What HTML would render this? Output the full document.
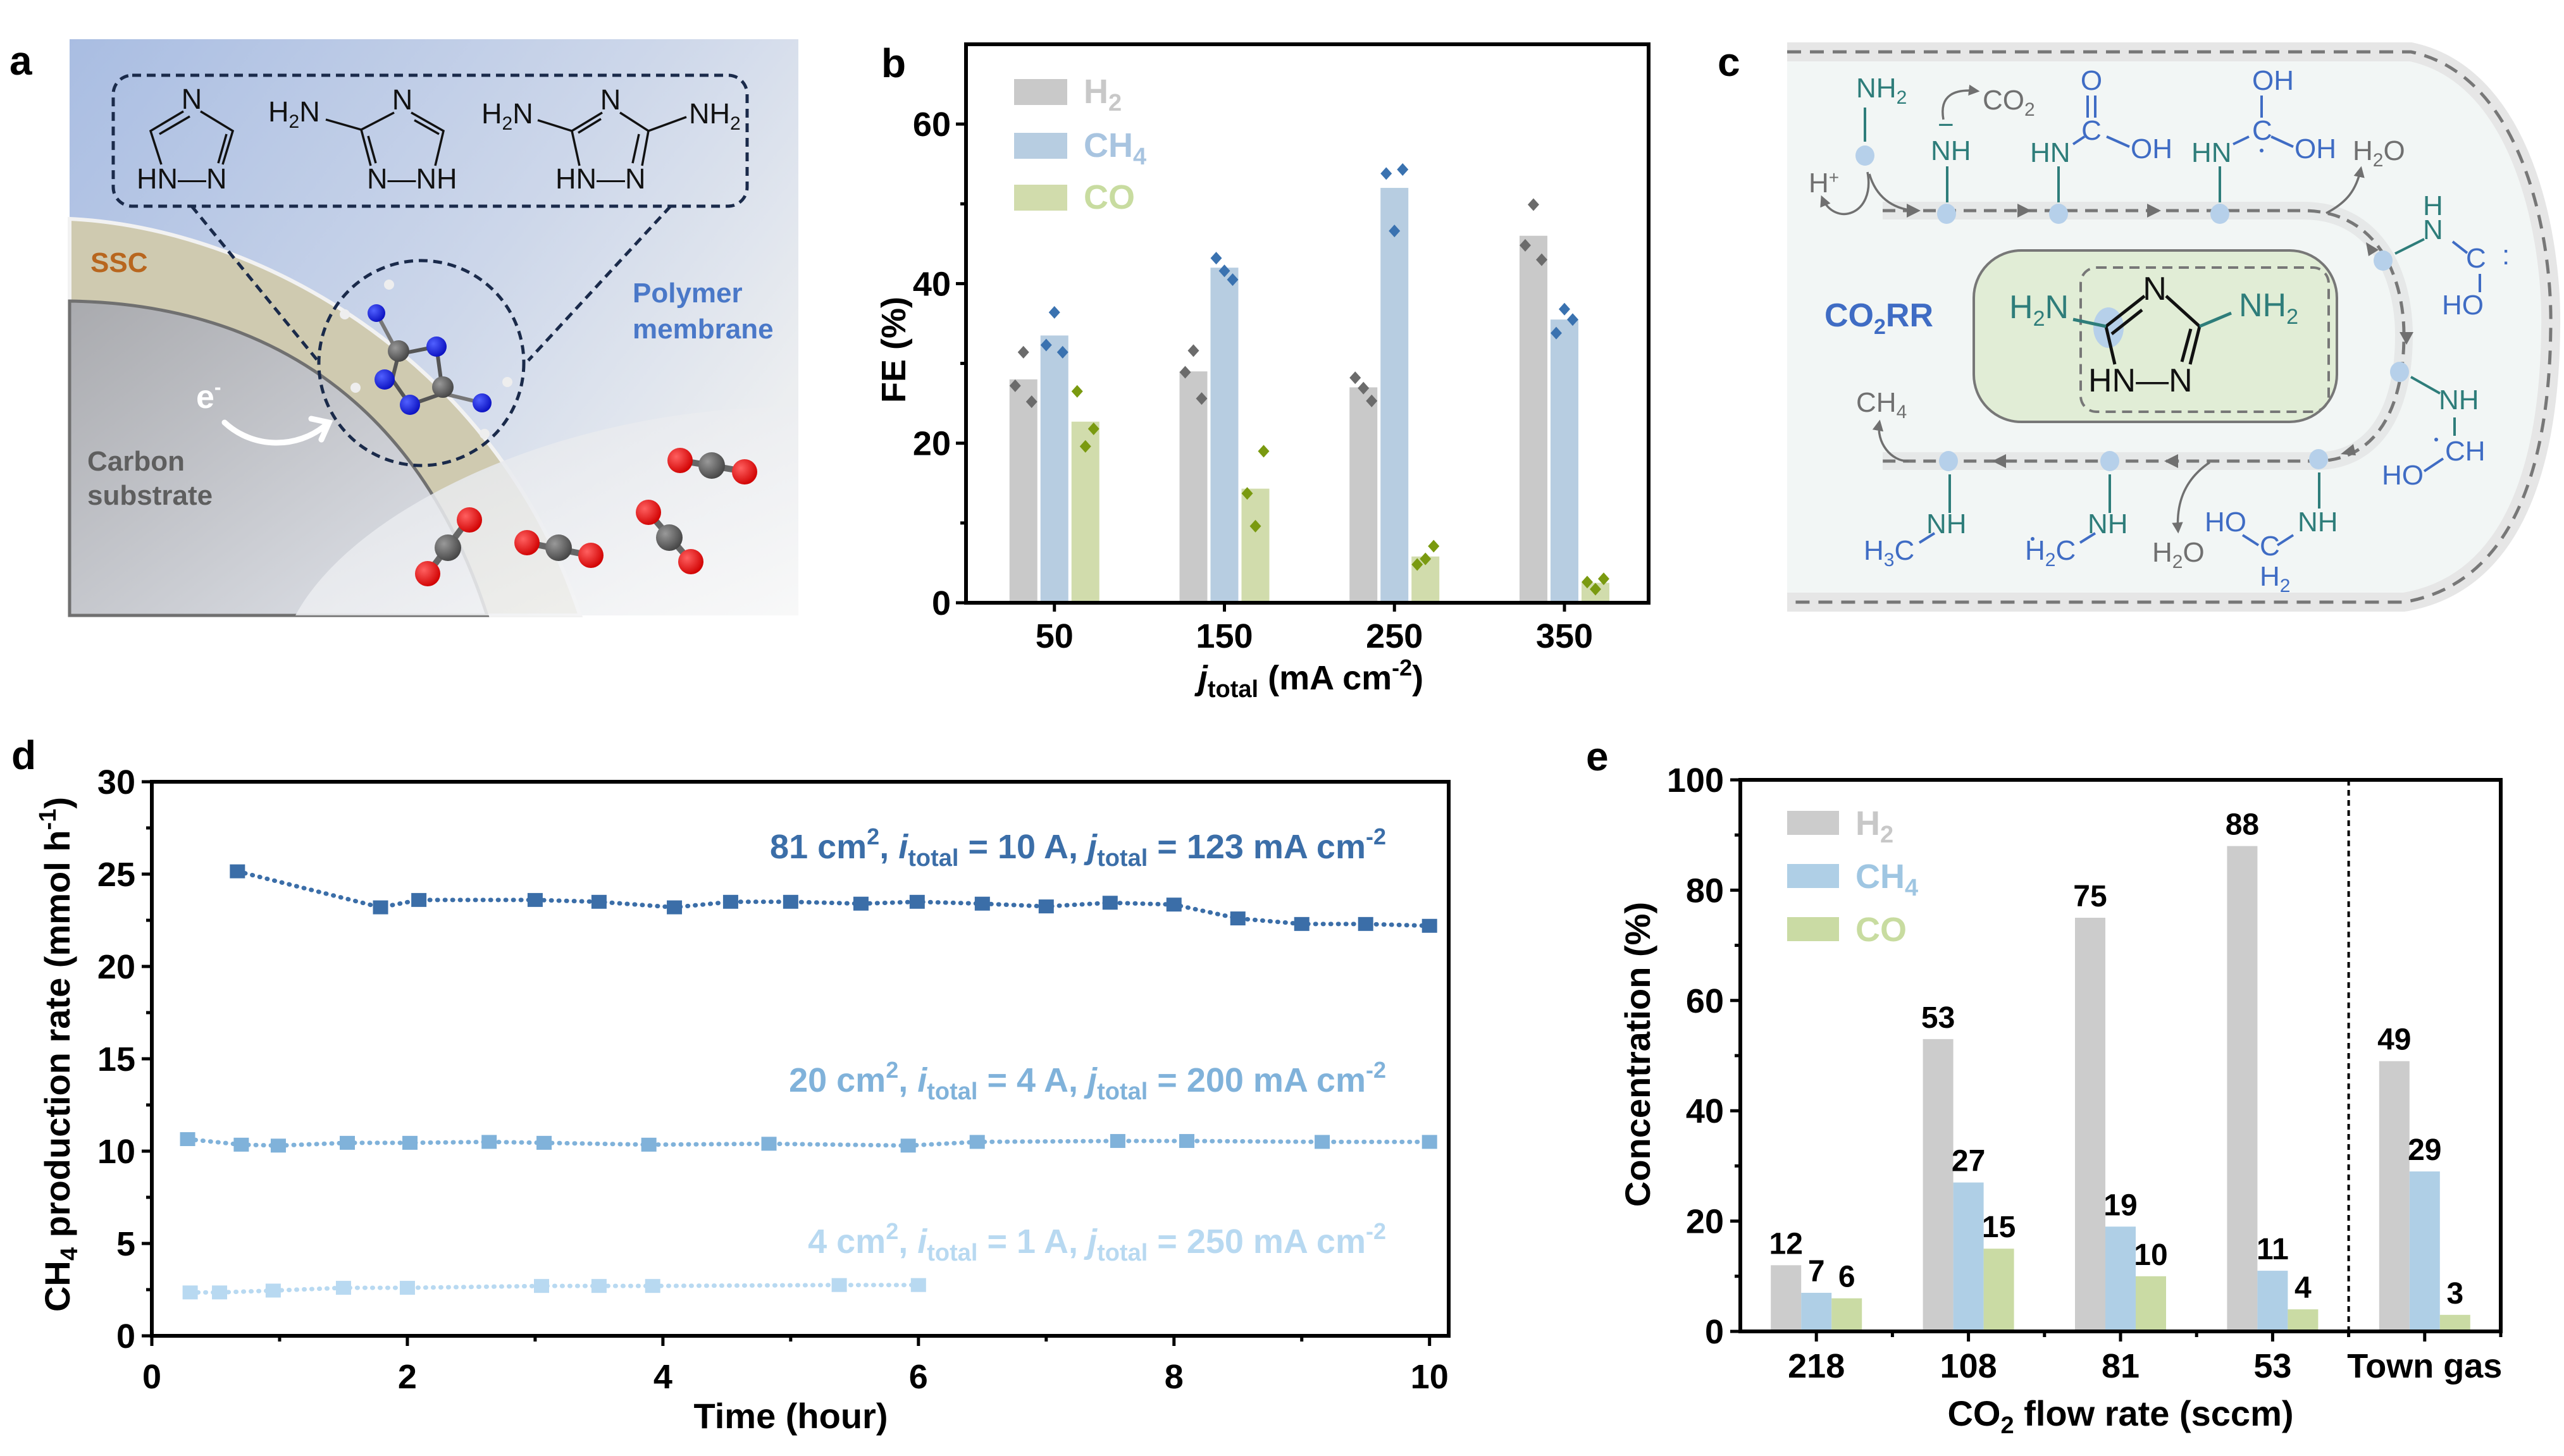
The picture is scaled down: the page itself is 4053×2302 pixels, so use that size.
<!DOCTYPE html>
<html><head><meta charset="utf-8"><style>
html,body{margin:0;padding:0;background:#fff}
svg{display:block;font-family:"Liberation Sans",Arial,sans-serif}
</style></head><body>
<svg id="fig" width="4053" height="2302" viewBox="0 0 4053 2302" xmlns="http://www.w3.org/2000/svg">
<defs>
<linearGradient id="bgA" x1="0" y1="0" x2="1" y2="0.6"><stop offset="0" stop-color="#a9bde2"/><stop offset="0.6" stop-color="#cdd7ea"/><stop offset="1" stop-color="#eceef0"/></linearGradient>
<linearGradient id="carb" x1="0" y1="0" x2="1" y2="1"><stop offset="0" stop-color="#a9aaae"/><stop offset="1" stop-color="#e2e5ec"/></linearGradient>
<linearGradient id="wht" x1="0" y1="0" x2="1" y2="1"><stop offset="0" stop-color="#dfe2e8"/><stop offset="1" stop-color="#fafafa"/></linearGradient>
<radialGradient id="red" cx="0.35" cy="0.35" r="0.7"><stop offset="0" stop-color="#ff6060"/><stop offset="1" stop-color="#d00000"/></radialGradient>
<radialGradient id="gry" cx="0.35" cy="0.35" r="0.7"><stop offset="0" stop-color="#999"/><stop offset="1" stop-color="#444"/></radialGradient>
<radialGradient id="blu" cx="0.35" cy="0.35" r="0.7"><stop offset="0" stop-color="#5060ff"/><stop offset="1" stop-color="#0a10c0"/></radialGradient>
<marker id="ah" viewBox="0 0 10 10" refX="8" refY="5" markerWidth="5" markerHeight="5" orient="auto"><path d="M0,0 L10,5 L0,10 Z" fill="#707070"/></marker>
</defs>

<!-- ================= PANEL A ================= -->
<g>
<text x="15" y="118" font-size="64" font-weight="bold">a</text>
<rect x="110" y="62" width="1152" height="911" fill="url(#bgA)"/>
<path d="M110,346 C400,360 780,560 917,973 L110,973 Z" fill="#cfcab0" stroke="#f2f2f2" stroke-width="6"/>
<path d="M110,476 C380,480 650,600 770,973 L110,973 Z" fill="url(#carb)" stroke="#707070" stroke-width="5"/>
<path d="M467,973 C560,800 900,640 1262,644 L1262,973 Z" fill="url(#wht)" opacity="0.85"/>
<rect x="179" y="119" width="1002" height="207" rx="30" fill="none" stroke="#1a2a4a" stroke-width="5" stroke-dasharray="14,9"/>
<line x1="303" y1="326" x2="502" y2="570" stroke="#1a2a4a" stroke-width="5" stroke-dasharray="14,9"/>
<line x1="1060" y1="326" x2="835" y2="570" stroke="#1a2a4a" stroke-width="5" stroke-dasharray="14,9"/>
<circle cx="666" cy="574" r="162" fill="none" stroke="#1a2a4a" stroke-width="5" stroke-dasharray="14,9"/>
<g font-size="45" fill="#111">
 <text x="303" y="172" text-anchor="middle">N</text>
 <text x="216" y="298">HN—N</text>
 <path d="M290,176 L238,207 L255,260 M300,184 L252,212 M317,176 L368,207 L352,260 M358,212 L345,258" stroke="#111" stroke-width="3.5" fill="none"/>
 <text x="636" y="173" text-anchor="middle">N</text>
 <text x="424" y="192">H<tspan font-size="30" dy="10">2</tspan><tspan dy="-10">N</tspan></text>
 <text x="580" y="298">N—NH</text>
 <path d="M515,189 L571,205 L623,178 M650,178 L701,207 L688,262 M571,205 L586,262 M582,215 L594,258 M655,190 L694,212" stroke="#111" stroke-width="3.5" fill="none"/>
 <text x="965" y="173" text-anchor="middle">N</text>
 <text x="761" y="195">H<tspan font-size="30" dy="10">2</tspan><tspan dy="-10">N</tspan></text>
 <text x="1089" y="195">NH<tspan font-size="30" dy="10">2</tspan></text>
 <text x="878" y="298">HN—N</text>
 <path d="M850,190 L904,207 L952,178 M914,210 L950,188 M980,178 L1025,207 L1015,262 M1010,212 L1000,258 M1025,207 L1085,185 M904,207 L916,262" stroke="#111" stroke-width="3.5" fill="none"/>
</g>
<g>
 <path d="M630,560 L690,548 L700,622 L648,640 L620,600 Z" fill="none" stroke="#555" stroke-width="6"/>
 <line x1="630" y1="560" x2="595" y2="495" stroke="#777" stroke-width="6"/>
 <line x1="700" y1="622" x2="762" y2="637" stroke="#777" stroke-width="6"/>
 <circle cx="595" cy="495" r="14" fill="url(#blu)"/><circle cx="615" cy="450" r="8" fill="#eee"/><circle cx="545" cy="497" r="8" fill="#eee"/>
 <circle cx="630" cy="555" r="17" fill="url(#gry)"/><circle cx="690" cy="548" r="16" fill="url(#blu)"/>
 <circle cx="608" cy="600" r="16" fill="url(#blu)"/><circle cx="562" cy="613" r="8" fill="#eee"/>
 <circle cx="700" cy="612" r="17" fill="url(#gry)"/><circle cx="648" cy="640" r="16" fill="url(#blu)"/>
 <circle cx="762" cy="637" r="15" fill="url(#blu)"/><circle cx="802" cy="604" r="8" fill="#eee"/><circle cx="766" cy="686" r="8" fill="#eee"/>
</g>
<text x="143" y="430" font-size="44" font-weight="bold" fill="#b8661e">SSC</text>
<text x="1000" y="478" font-size="44" font-weight="bold" fill="#4a78c8">Polymer</text>
<text x="1000" y="535" font-size="44" font-weight="bold" fill="#4a78c8">membrane</text>
<text x="138" y="744" font-size="44" font-weight="bold" fill="#5e5e5e">Carbon</text>
<text x="138" y="798" font-size="44" font-weight="bold" fill="#5e5e5e">substrate</text>
<text x="310" y="645" font-size="52" font-weight="bold" fill="#fff">e<tspan font-size="32" dy="-22">-</tspan></text>
<path d="M355,668 C400,710 470,710 515,672" fill="none" stroke="#fff" stroke-width="9" stroke-linecap="round"/>
<path d="M492,662 L520,668 L508,695" fill="none" stroke="#fff" stroke-width="9" stroke-linecap="round"/>
<g>
 <line x1="1075" y1="728" x2="1175" y2="745" stroke="#666" stroke-width="10"/><circle cx="1075" cy="728" r="20" fill="url(#red)"/><circle cx="1125" cy="736" r="21" fill="url(#gry)"/><circle cx="1177" cy="746" r="20" fill="url(#red)"/>
 <line x1="833" y1="858" x2="932" y2="878" stroke="#666" stroke-width="10"/><circle cx="833" cy="858" r="20" fill="url(#red)"/><circle cx="883" cy="866" r="21" fill="url(#gry)"/><circle cx="934" cy="878" r="20" fill="url(#red)"/>
 <line x1="1025" y1="810" x2="1092" y2="888" stroke="#666" stroke-width="10"/><circle cx="1025" cy="810" r="20" fill="url(#red)"/><circle cx="1058" cy="850" r="21" fill="url(#gry)"/><circle cx="1092" cy="888" r="20" fill="url(#red)"/>
 <line x1="740" y1="822" x2="676" y2="907" stroke="#666" stroke-width="10"/><circle cx="742" cy="822" r="20" fill="url(#red)"/><circle cx="708" cy="866" r="21" fill="url(#gry)"/><circle cx="676" cy="907" r="20" fill="url(#red)"/>
</g>
</g>

<!-- ================= PANEL C ================= -->
<g>
<text x="2715" y="120" font-size="64" font-weight="bold">c</text>
<path d="M2825,82 L3811,82 C3990,120 4035,380 4032,520 C4030,700 3990,920 3800,952 L2825,952 Z" fill="#f2f6f5"/>
<path d="M2825,82 L3811,82 C3990,120 4035,380 4032,520 C4030,700 3990,920 3800,952 L2825,952" fill="none" stroke="#e6e6e6" stroke-width="30"/>
<path d="M2825,82 L3811,82 C3990,120 4035,380 4032,520 C4030,700 3990,920 3800,952 L2825,952" fill="none" stroke="#777" stroke-width="5" stroke-dasharray="22,14"/>
<path d="M2976,333 L3640,333 C3760,333 3800,440 3800,530 C3800,640 3760,729 3660,729 L2976,729" fill="none" stroke="#e6e8e8" stroke-width="28"/>
<path d="M2976,333 L3640,333 C3760,333 3800,440 3800,530 C3800,640 3760,729 3660,729 L2976,729" fill="none" stroke="#777" stroke-width="5" stroke-dasharray="20,12"/>
<g fill="#707070">
 <path d="M3036,333 l-22,-11 v22 z"/><path d="M3211,333 l-22,-11 v22 z"/><path d="M3416,333 l-22,-11 v22 z"/>
 <path d="M3760,395 l-20,-12 l4,22 z"/><path d="M3804,545 l-11,-20 h22 z"/><path d="M3700,718 l20,-16 l4,18 z"/>
 <path d="M3149,729 l22,-11 v22 z"/><path d="M3421,729 l22,-11 v22 z"/>
</g>
<rect x="3120" y="396" width="574" height="271" rx="75" fill="#e1edd6" stroke="#777" stroke-width="4"/>
<rect x="3289" y="423" width="392" height="228" rx="25" fill="none" stroke="#777" stroke-width="4" stroke-dasharray="16,10"/>
<ellipse cx="3333" cy="518" rx="24" ry="32" fill="#b6d0ea"/>
<g font-size="52">
 <text x="3406" y="474" text-anchor="middle" fill="#111">N</text>
 <text x="3176" y="503" fill="#2e7d7a">H<tspan font-size="34" dy="12">2</tspan><tspan dy="-12">N</tspan></text>
 <text x="3539" y="500" fill="#2e7d7a">NH<tspan font-size="34" dy="12">2</tspan></text>
 <text x="3301" y="619" fill="#111">HN—N</text>
 <path d="M3329,516 L3390,468 M3338,528 L3386,490 M3424,468 L3477,516 L3462,576 M3463,520 L3449,572 M3329,516 L3343,576" stroke="#111" stroke-width="5" fill="none"/>
 <path d="M3277,505 L3329,516 M3477,516 L3527,495" stroke="#2e7d7a" stroke-width="5"/>
</g>
<text x="2884" y="516" font-size="52" font-weight="bold" fill="#3f6cc4">CO<tspan font-size="34" dy="12">2</tspan><tspan dy="-12">RR</tspan></text>
<g font-size="44">
 <g fill="#2e7d7a"><text x="2934" y="154">NH<tspan font-size="30" dy="10">2</tspan></text><text x="3052" y="253">NH</text><text x="3209" y="256">HN</text><text x="3464" y="256">HN</text>
 <text x="3830" y="340">H</text><text x="3830" y="378">N</text><text x="3855" y="647">NH</text><text x="3045" y="843">NH</text><text x="3300" y="843">NH</text><text x="3632" y="840">NH</text></g>
 <g fill="#3f6cc4"><text x="3306" y="142" text-anchor="middle">O</text><text x="3306" y="221" text-anchor="middle">C</text><text x="3368" y="250">OH</text>
 <text x="3560" y="142">OH</text><text x="3560" y="221">C</text><text x="3627" y="250">OH</text>
 <text x="3898" y="423">C</text><text x="3955" y="418">:</text><text x="3860" y="497">HO</text>
 <text x="3865" y="728">CH</text><text x="3765" y="766">HO</text>
 <text x="2946" y="885">H<tspan font-size="30" dy="10">3</tspan><tspan dy="-10">C</tspan></text>
 <text x="3201" y="885">H<tspan font-size="30" dy="10">2</tspan><tspan dy="-10">C</tspan></text>
 <text x="3485" y="840">HO</text><text x="3572" y="878">C</text><text x="3572" y="926">H<tspan font-size="30" dy="10">2</tspan></text></g>
 <g fill="#707070"><text x="2859" y="304">H<tspan font-size="28" dy="-14">+</tspan></text><text x="3134" y="173">CO<tspan font-size="30" dy="10">2</tspan></text>
 <text x="3719" y="253">H<tspan font-size="30" dy="10">2</tspan><tspan dy="-10">O</tspan></text><text x="3402" y="888">H<tspan font-size="30" dy="10">2</tspan><tspan dy="-10">O</tspan></text>
 <text x="2934" y="651">CH<tspan font-size="30" dy="10">4</tspan></text></g>
 <text x="3063" y="212" fill="#2e7d7a">−</text>
 <g fill="#3f6cc4"><circle cx="3575" cy="238" r="3"/><circle cx="3851" cy="695" r="3"/><circle cx="3213" cy="852" r="3"/></g>
 <g stroke="#2e7d7a" stroke-width="4"><line x1="2948" y1="170" x2="2948" y2="224"/><line x1="3078" y1="263" x2="3078" y2="320"/><line x1="3254" y1="263" x2="3254" y2="320"/><line x1="3509" y1="263" x2="3509" y2="320"/>
 <line x1="3786" y1="401" x2="3832" y2="378"/><line x1="3811" y1="596" x2="3857" y2="622"/><line x1="3880" y1="660" x2="3880" y2="689"/>
 <line x1="3082" y1="750" x2="3082" y2="811"/><line x1="3335" y1="750" x2="3335" y2="811"/><line x1="3666" y1="747" x2="3666" y2="804"/></g>
 <g stroke="#3f6cc4" stroke-width="4"><line x1="3300" y1="151" x2="3300" y2="186"/><line x1="3312" y1="151" x2="3312" y2="186"/><line x1="3277" y1="228" x2="3295" y2="216"/><line x1="3330" y1="216" x2="3366" y2="232"/>
 <line x1="3575" y1="151" x2="3575" y2="186"/><line x1="3530" y1="228" x2="3555" y2="216"/><line x1="3590" y1="216" x2="3625" y2="232"/>
 <line x1="3877" y1="382" x2="3900" y2="400"/><line x1="3920" y1="433" x2="3920" y2="462"/><line x1="3862" y1="725" x2="3832" y2="745"/>
 <line x1="3034" y1="858" x2="3058" y2="843"/><line x1="3288" y1="858" x2="3312" y2="843"/><line x1="3545" y1="846" x2="3570" y2="862"/><line x1="3600" y1="862" x2="3625" y2="846"/></g>
 <g fill="#b6d0ea"><ellipse cx="2948" cy="246" rx="15" ry="16"/><ellipse cx="3077" cy="338" rx="15" ry="16"/><ellipse cx="3254" cy="338" rx="15" ry="16"/><ellipse cx="3509" cy="338" rx="15" ry="16"/>
 <ellipse cx="3767" cy="412" rx="15" ry="16"/><ellipse cx="3793" cy="588" rx="15" ry="16"/><ellipse cx="3665" cy="726" rx="15" ry="16"/><ellipse cx="3335" cy="729" rx="15" ry="16"/><ellipse cx="3080" cy="729" rx="15" ry="16"/></g>
 <g fill="none" stroke="#707070" stroke-width="3.5" marker-end="url(#ah)"><path d="M2952,272 C2965,340 2900,360 2880,312"/><path d="M3072,189 C3065,150 3090,140 3126,144"/>
 <path d="M3677,337 C3710,320 3725,300 3732,266"/><path d="M3493,731 C3450,760 3440,800 3443,840"/><path d="M3017,729 C2990,730 2965,700 2971,667"/></g>
 <path d="M2955,275 C2965,310 2990,330 3026,333" fill="none" stroke="#707070" stroke-width="3.5"/>
</g>
</g>

<!-- ================= CHARTS (script-built) ================= -->
<g id="panelB">
<text x="1393" y="122" font-size="64" font-weight="bold">b</text>
</g>
<g id="panelD">
<text x="18" y="1216" font-size="64" font-weight="bold">d</text>
</g>
<g id="panelE">
<text x="2507" y="1218" font-size="64" font-weight="bold">e</text>
</g>
</svg>
<script>
// ---------- Panel b data ----------
const bCategories = ['50','150','250','350'];
const bH2 = [28, 29, 27, 46];
const bCH4 = [33.5, 42, 52, 35.5];
const bCO = [22.7, 14.3, 5.8, 2.5];
const bH2Points = [[27.2,31.4,25.2],[28.9,31.6,25.6],[28.2,26.9,25.3],[44.8,49.9,43.0]];
const bCH4Points = [[32.3,36.4,31.4],[43.2,41.6,40.5],[53.8,46.6,54.3],[33.8,36.8,35.5]];
const bCOPoints = [[26.5,19.6,21.8],[13.7,9.6,19.0],[4.8,5.5,7.1],[2.6,1.7,3.0]];
const bYTicks = [0, 20, 40, 60];
const bYMinor = [10, 30, 50];

// ---------- Panel d data ----------
const dXTicks = [0, 2, 4, 6, 8, 10];
const dXMinor = [1, 3, 5, 7, 9];
const dYTicks = [0, 5, 10, 15, 20, 25, 30];
const dYMinor = [2.5, 7.5, 12.5, 17.5, 22.5, 27.5];
const d81Time = [0.67,1.79,2.09,3.0,3.5,4.09,4.53,5.0,5.55,5.99,6.5,7.0,7.5,8.0,8.5,9.0,9.5,10.0];
const d81Rate = [25.15,23.2,23.6,23.6,23.5,23.2,23.5,23.5,23.4,23.5,23.4,23.25,23.45,23.35,22.6,22.3,22.3,22.2];
const d20Time = [0.28,0.7,0.99,1.53,2.02,2.64,3.07,3.89,4.83,5.92,6.46,7.56,8.1,9.16,10.0];
const d20Rate = [10.65,10.35,10.3,10.45,10.45,10.5,10.45,10.35,10.4,10.3,10.5,10.55,10.55,10.5,10.5];
const d4Time = [0.3,0.53,0.95,1.5,2.0,3.05,3.5,3.92,5.38,6.0];
const d4Rate = [2.35,2.35,2.45,2.6,2.6,2.7,2.7,2.7,2.75,2.75];

// ---------- Panel e data ----------
const eCategories = ['218','108','81','53','Town gas'];
const eH2 = [12, 53, 75, 88, 49];
const eCH4 = [7, 27, 19, 11, 29];
const eCO = [6, 15, 10, 4, 3];
const eYTicks = [0, 20, 40, 60, 80, 100];
const eYMinor = [10, 30, 50, 70, 90];

const NS = 'http://www.w3.org/2000/svg';
function mk(parent, tag, attrs) {
  const el = document.createElementNS(NS, tag);
  for (const k in attrs) el.setAttribute(k, attrs[k]);
  parent.appendChild(el);
  return el;
}
function txt(parent, x, y, s, size, anchor, fill, weight) {
  const t = mk(parent, 'text', {x: x, y: y, 'font-size': size, 'text-anchor': anchor || 'start', fill: fill || '#000', 'font-weight': weight || 'bold'});
  t.textContent = s;
  return t;
}

// ================= Panel b =================
(function(){
  const g = document.getElementById('panelB');
  const L = 1527, R = 2606, T = 70, B = 953;
  const xMin = -0.52, xMax = 3.495, yMax = 70;
  const xs = v => L + (v - xMin) / (xMax - xMin) * (R - L);
  const ys = v => B - v / yMax * (B - T);
  const series = [
    {vals: bH2, pts: bH2Points, fill: '#c9c9c9', dot: '#6b6b6b', off: -49, name: 'h2'},
    {vals: bCH4, pts: bCH4Points, fill: '#b7cde1', dot: '#3a72b0', off: 0, name: 'ch4'},
    {vals: bCO, pts: bCOPoints, fill: '#d1dcac', dot: '#7a9a10', off: 49, name: 'co'}
  ];
  series.forEach(s => {
    s.vals.forEach((v, i) => {
      const cx = xs(i) + s.off;
      const r = mk(g, 'rect', {x: cx - 22, y: ys(v), width: 44, height: B - ys(v), fill: s.fill});
      
      
      s.pts[i].forEach((p, k) => {
        const px = cx + (k - 1) * 13, py = ys(p);
        const d = mk(g, 'path', {d: `M${px},${py-10} L${px+9},${py} L${px},${py+10} L${px-9},${py} Z`, fill: s.dot});
        
        
      });
    });
  });
  const fr = mk(g, 'rect', {x: L, y: T, width: R - L, height: B - T, fill: 'none', stroke: '#000', 'stroke-width': 6});
  
  
  bYTicks.forEach(v => {
    mk(g, 'line', {x1: L - 16, x2: L, y1: ys(v), y2: ys(v), stroke: '#000', 'stroke-width': 5});
    const t = txt(g, L - 24, ys(v) + 19, String(v), 54, 'end');
    
    
  });
  bYMinor.forEach(v => mk(g, 'line', {x1: L - 9, x2: L, y1: ys(v), y2: ys(v), stroke: '#000', 'stroke-width': 5}));
  bCategories.forEach((c, i) => {
    mk(g, 'line', {x1: xs(i), x2: xs(i), y1: B, y2: B + 14, stroke: '#000', 'stroke-width': 5});
    const t = txt(g, xs(i), B + 71, c, 54, 'middle');
    
    
  });
  const yt = mk(g, 'text', {x: 0, y: 0, 'font-size': 54, 'font-weight': 'bold', 'text-anchor': 'middle', transform: 'translate(1431,553) rotate(-90)'});
  yt.textContent = 'FE (%)';
  
  
  const xt = mk(g, 'text', {x: 2072, y: 1090, 'font-size': 54, 'font-weight': 'bold', 'text-anchor': 'middle'});
  xt.innerHTML = '<tspan font-style="italic">j</tspan><tspan font-size="38" dy="12">total</tspan><tspan dy="-12"> (mA cm</tspan><tspan font-size="36" dy="-22">-2</tspan><tspan dy="22">)</tspan>';
  
  
  const leg = [['H','2','#c9c9c9','#c8c8c8',125],['CH','4','#b7cde1','#a8c4e0',210],['CO','','#d1dcac','#c8dca0',292]];
  leg.forEach(l => {
    const r = mk(g, 'rect', {x: 1603, y: l[4], width: 84, height: 41, fill: l[2]});
    
    
    const t = mk(g, 'text', {x: 1713, y: l[4] + 38, 'font-size': 54, 'font-weight': 'bold', fill: l[3]});
    t.innerHTML = l[0] + (l[1] ? '<tspan font-size="38" dy="12">' + l[1] + '</tspan>' : '');
    
    
  });
})();

// ================= Panel d =================
(function(){
  const g = document.getElementById('panelD');
  const L = 240, R = 2290, T = 1236, B = 2112;
  const xs = v => L + v / 10.15 * (R - L);
  const ys = v => B - v / 30 * (B - T);
  const series = [
    {t: d81Time, r: d81Rate, c: '#3b6ea8', name: '81cm2'},
    {t: d20Time, r: d20Rate, c: '#80b2da', name: '20cm2'},
    {t: d4Time, r: d4Rate, c: '#b8d9f1', name: '4cm2'}
  ];
  series.forEach(s => {
    const pts = s.t.map((tv, i) => xs(tv) + ',' + ys(s.r[i])).join(' ');
    const pl = mk(g, 'polyline', {points: pts, fill: 'none', stroke: s.c, 'stroke-width': 7, 'stroke-dasharray': '1,11', 'stroke-linecap': 'round'});
    
    
    s.t.forEach((tv, i) => {
      const m = mk(g, 'rect', {x: xs(tv) - 12, y: ys(s.r[i]) - 11, width: 24, height: 22, fill: s.c});
      
      
    });
  });
  const fr = mk(g, 'rect', {x: L, y: T, width: R - L, height: B - T, fill: 'none', stroke: '#000', 'stroke-width': 6});
  
  
  dYTicks.forEach(v => {
    mk(g, 'line', {x1: L - 16, x2: L, y1: ys(v), y2: ys(v), stroke: '#000', 'stroke-width': 5});
    const t = txt(g, L - 26, ys(v) + 19, String(v), 54, 'end');
    
    
  });
  dYMinor.forEach(v => mk(g, 'line', {x1: L - 9, x2: L, y1: ys(v), y2: ys(v), stroke: '#000', 'stroke-width': 5}));
  dXTicks.forEach(v => {
    mk(g, 'line', {x1: xs(v), x2: xs(v), y1: B, y2: B + 16, stroke: '#000', 'stroke-width': 5});
    const t = txt(g, xs(v), B + 83, String(v), 54, 'middle');
    
    
  });
  dXMinor.forEach(v => mk(g, 'line', {x1: xs(v), x2: xs(v), y1: B, y2: B + 9, stroke: '#000', 'stroke-width': 5}));
  const xt = txt(g, 1250, 2258, 'Time (hour)', 56, 'middle');
  
  
  const yt = mk(g, 'text', {x: 0, y: 0, 'font-size': 56, 'font-weight': 'bold', 'text-anchor': 'middle', transform: 'translate(110,1667) rotate(-90)'});
  yt.innerHTML = 'CH<tspan font-size="38" dy="12">4</tspan><tspan dy="-12"> production rate (mmol h</tspan><tspan font-size="38" dy="-22">-1</tspan><tspan dy="22">)</tspan>';
  
  
  const labels = [['81','10','123','#3b6ea8',1357],['20','4','200','#80b2da',1726],['4','1','250','#b8d9f1',1981]];
  labels.forEach(l => {
    const t = mk(g, 'text', {x: 2191, y: l[4], 'font-size': 54, 'font-weight': 'bold', 'text-anchor': 'end', fill: l[3]});
    t.innerHTML = l[0] + ' cm<tspan font-size="36" dy="-22">2</tspan><tspan dy="22">, </tspan><tspan font-style="italic">i</tspan><tspan font-size="38" dy="12">total</tspan><tspan dy="-12"> = ' + l[1] + ' A, </tspan><tspan font-style="italic">j</tspan><tspan font-size="38" dy="12">total</tspan><tspan dy="-12"> = ' + l[2] + ' mA cm</tspan><tspan font-size="36" dy="-22">-2</tspan>';
    
    
  });
})();

// ================= Panel e =================
(function(){
  const g = document.getElementById('panelE');
  const L = 2751, R = 3953, T = 1233, B = 2105;
  const xs = v => L + (v + 0.5) / 5 * (R - L);
  const ys = v => B - v / 100 * (B - T);
  const series = [
    {vals: eH2, fill: '#cccccc', off: -48, name: 'h2'},
    {vals: eCH4, fill: '#afcfe6', off: 0, name: 'ch4'},
    {vals: eCO, fill: '#cadba4', off: 48, name: 'co'}
  ];
  series.forEach(s => {
    s.vals.forEach((v, i) => {
      const cx = xs(i) + s.off;
      const r = mk(g, 'rect', {x: cx - 24, y: ys(v), width: 48, height: B - ys(v), fill: s.fill});
      
      
      const t = txt(g, cx, ys(v) - 18, String(v), 48, 'middle');
      
      
    });
  });
  const dv = mk(g, 'line', {x1: xs(3.5), x2: xs(3.5), y1: T, y2: B, stroke: '#000', 'stroke-width': 4, 'stroke-dasharray': '9,7'});
  
  
  const fr = mk(g, 'rect', {x: L, y: T, width: R - L, height: B - T, fill: 'none', stroke: '#000', 'stroke-width': 6});
  
  
  eYTicks.forEach(v => {
    mk(g, 'line', {x1: L - 16, x2: L, y1: ys(v), y2: ys(v), stroke: '#000', 'stroke-width': 5});
    const t = txt(g, L - 26, ys(v) + 19, String(v), 54, 'end');
    
    
  });
  eYMinor.forEach(v => mk(g, 'line', {x1: L - 9, x2: L, y1: ys(v), y2: ys(v), stroke: '#000', 'stroke-width': 5}));
  eCategories.forEach((c, i) => {
    mk(g, 'line', {x1: xs(i), x2: xs(i), y1: B, y2: B + 16, stroke: '#000', 'stroke-width': 5});
    mk(g, 'line', {x1: xs(i + 0.5), x2: xs(i + 0.5), y1: B, y2: B + 9, stroke: '#000', 'stroke-width': 5});
    const t = txt(g, xs(i), B + 73, c, 54, 'middle');
    
    
  });
  const xt = mk(g, 'text', {x: 3352, y: 2254, 'font-size': 56, 'font-weight': 'bold', 'text-anchor': 'middle'});
  xt.innerHTML = 'CO<tspan font-size="38" dy="12">2</tspan><tspan dy="-12"> flow rate (sccm)</tspan>';
  
  
  const yt = mk(g, 'text', {x: 0, y: 0, 'font-size': 56, 'font-weight': 'bold', 'text-anchor': 'middle', transform: 'translate(2608,1667) rotate(-90)'});
  yt.textContent = 'Concentration (%)';
  
  
  const leg = [['H','2','#cccccc','#c8c8c8',1282],['CH','4','#afcfe6','#9fc6e2',1366],['CO','','#cadba4','#c8dca0',1450]];
  leg.forEach(l => {
    const r = mk(g, 'rect', {x: 2825, y: l[4], width: 82, height: 38, fill: l[2]});
    
    
    const t = mk(g, 'text', {x: 2933, y: l[4] + 38, 'font-size': 54, 'font-weight': 'bold', fill: l[3]});
    t.innerHTML = l[0] + (l[1] ? '<tspan font-size="38" dy="12">' + l[1] + '</tspan>' : '');
    
    
  });
})();
</script>
</body></html>
